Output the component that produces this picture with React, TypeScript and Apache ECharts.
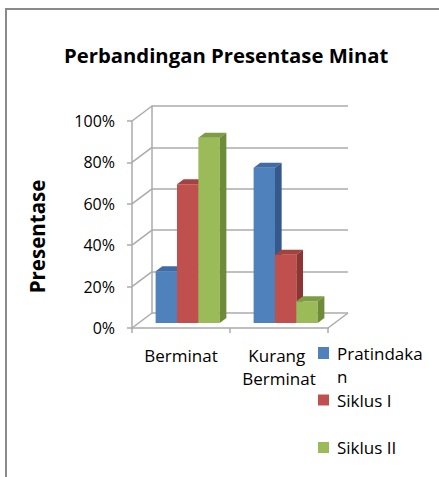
import React, { useEffect, useRef } from 'react';
import * as echarts from 'echarts';

const categories = ['Berminat', 'Kurang Berminat'];
const seriesNames = ['Pratindakan', 'Siklus I', 'Siklus II'];
const pratindakan = [25, 75];
const siklus1 = [67, 33];
const siklus2 = [89.5, 10.5];
const yTicks = [0, 20, 40, 60, 80, 100];

const FRONT = ['#4F81BD', '#C0504D', '#9BBB59'];
const TOP = ['#3F6CA6', '#A4423F', '#7E9C45'];
const SIDE = ['#35598A', '#8C3533', '#6E8B3A'];
const GRID_COLOR = '#ABABAB';
const DEPTH_X = 20;
const DEPTH_Y = -15;
const FONT = 'Open Sans';

const makeBar = (k: number) => (params: any, api: any) => {
  const cat = api.value(0);
  const val = api.value(1);
  const band = api.size([1, 0])[0];
  const c0 = api.coord([cat, 0]);
  const c1 = api.coord([cat, val]);
  const w = band * 0.218;
  const dx = DEPTH_X / 3;
  const dy = DEPTH_Y / 3;
  const x0 = c0[0] - 1.5 * w + k * w + dx;
  const x1 = x0 + w;
  const yb = c0[1] + dy;
  const yt = c1[1] + dy;
  return {
    type: 'group',
    children: [
      { type: 'rect', shape: { x: x0, y: yt, width: w, height: yb - yt }, style: { fill: FRONT[k] } },
      {
        type: 'polygon',
        shape: { points: [[x0, yt], [x1, yt], [x1 + dx, yt + dy], [x0 + dx, yt + dy]] },
        style: { fill: TOP[k] },
      },
      {
        type: 'polygon',
        shape: { points: [[x1, yt], [x1 + dx, yt + dy], [x1 + dx, yb + dy], [x1, yb]] },
        style: { fill: SIDE[k] },
      },
    ],
  };
};

const wallRender = (params: any, api: any) => {
  const cat = api.value(0);
  const v = api.value(1);
  const side = api.value(2);
  const band = api.size([1, 0])[0];
  const c = api.coord([cat, v]);
  const x = c[0] + (side * band) / 2;
  return {
    type: 'line',
    shape: { x1: x, y1: c[1], x2: x + DEPTH_X, y2: c[1] + DEPTH_Y },
    style: { stroke: GRID_COLOR, lineWidth: 1.5 },
  };
};

export default function App() {
  const ref = useRef<HTMLDivElement>(null);
  useEffect(() => {
    if (!ref.current) return;
    const chart = echarts.init(ref.current, undefined, { renderer: 'svg' });
    const values = [pratindakan, siklus1, siklus2];
    const legendText = { fontFamily: FONT, fontSize: 17, color: '#000', lineHeight: 23 };
    chart.setOption({
      animation: false,
      backgroundColor: '#fff',
      title: {
        text: 'Perbandingan Presentase Minat',
        left: 59,
        top: 40,
        textStyle: { fontFamily: FONT, fontWeight: 'bold', fontSize: 20.3, color: '#000' },
      },
      graphic: [
        {
          type: 'rect',
          shape: { x: 6, y: 9, width: 480, height: 520 },
          style: { fill: 'none', stroke: '#8A8A8A', lineWidth: 2 },
          z: -10,
          silent: true,
        },
      ],
      legend: [
        {
          data: [seriesNames[0]],
          left: 318,
          top: 316,
          padding: 0,
          itemWidth: 11,
          itemHeight: 12,
          icon: 'rect',
          formatter: (name: string) => '\n' + name,
          textStyle: { ...legendText, width: 92, overflow: 'breakAll', padding: [5, 0, 0, 3] },
        },
        {
          data: [seriesNames[1]],
          left: 318,
          top: 386,
          padding: 0,
          itemWidth: 11,
          itemHeight: 11,
          icon: 'rect',
          textStyle: { ...legendText, padding: [5, 0, 0, 3] },
        },
        {
          data: [seriesNames[2]],
          left: 318,
          top: 433.5,
          padding: 0,
          itemWidth: 11,
          itemHeight: 11,
          icon: 'rect',
          textStyle: { ...legendText, padding: [5, 0, 0, 3] },
        },
      ],
      grid: [
        { left: 132, top: 121, width: 196, height: 207 },
        { left: 152, top: 106, width: 196, height: 207 },
      ],
      xAxis: [
        {
          type: 'category',
          gridIndex: 0,
          data: categories,
          axisLine: { lineStyle: { color: GRID_COLOR, width: 1.5 } },
          axisTick: { show: true, length: 5, lineStyle: { color: GRID_COLOR, width: 1.5 } },
          axisLabel: {
            interval: 0,
            margin: 15.5,
            fontFamily: FONT,
            fontSize: 17,
            lineHeight: 23,
            color: '#000',
            width: 96,
            overflow: 'break',
          },
        },
        { type: 'category', gridIndex: 1, data: categories, show: false },
      ],
      yAxis: [
        {
          type: 'value',
          gridIndex: 0,
          min: 0,
          max: 100,
          interval: 20,
          name: 'Presentase',
          nameLocation: 'middle',
          nameRotate: 90,
          nameGap: 85,
          nameTextStyle: {
            fontFamily: FONT,
            fontWeight: 'bold',
            fontSize: 20.5,
            color: '#000',
            padding: [0, 24, 0, 0],
          },
          axisLine: { show: true, lineStyle: { color: GRID_COLOR, width: 1.5 } },
          axisTick: { show: true, length: 5, lineStyle: { color: GRID_COLOR, width: 1.5 } },
          axisLabel: { formatter: '{value}%', margin: 17, fontFamily: FONT, fontSize: 16, color: '#000' },
          splitLine: { show: false },
        },
        {
          type: 'value',
          gridIndex: 1,
          min: 0,
          max: 100,
          interval: 20,
          axisLine: { show: true, lineStyle: { color: GRID_COLOR, width: 1.5 } },
          axisTick: { show: false },
          axisLabel: { show: false },
          splitLine: { show: true, lineStyle: { color: GRID_COLOR, width: 1.5 } },
        },
      ],
      series: [
        {
          type: 'custom',
          name: 'walls',
          xAxisIndex: 0,
          yAxisIndex: 0,
          silent: true,
          z: 1,
          renderItem: wallRender,
          encode: { x: 0, y: 1 },
          data: yTicks.map((v) => [0, v, -1]).concat([[1, 0, 1]]),
        },
        ...seriesNames.map((name, k) => ({
          type: 'custom',
          name,
          xAxisIndex: 0,
          yAxisIndex: 0,
          z: 3,
          itemStyle: { color: FRONT[k] },
          renderItem: makeBar(k),
          encode: { x: 0, y: 1 },
          data: values[k].map((v, i) => [i, v]),
        })),
      ],
    });
    return () => chart.dispose();
  }, []);
  return (
    <div
      ref={ref}
      style={{ position: 'absolute', left: 0, top: 0, width: 439, height: 477, background: '#fff' }}
    />
  );
}
